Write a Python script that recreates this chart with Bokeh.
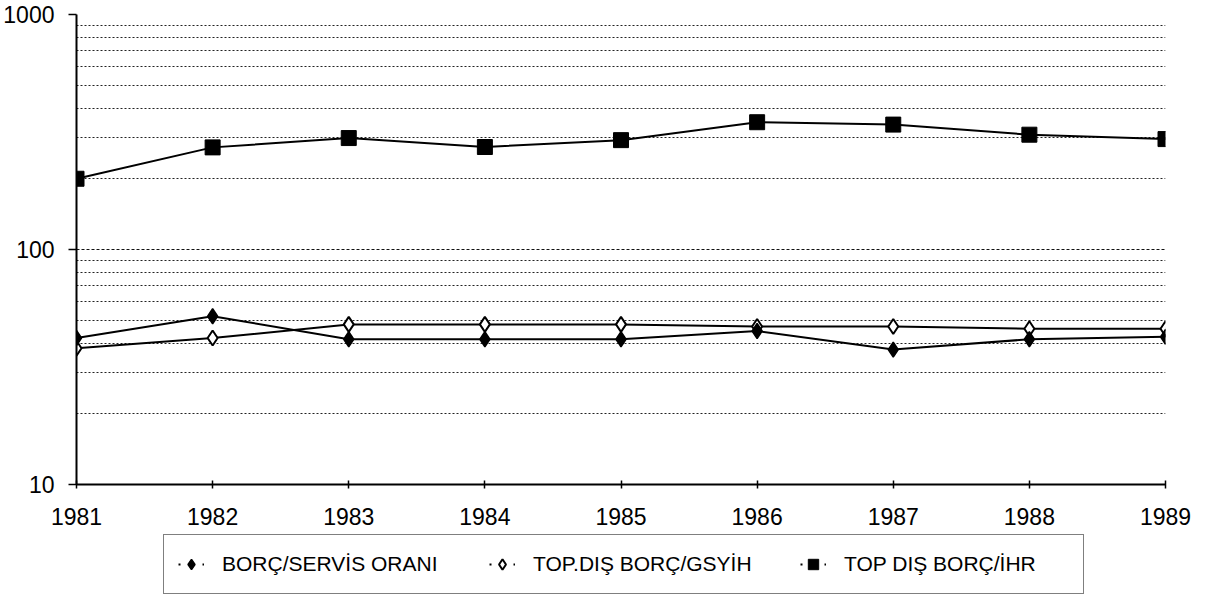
from bokeh.plotting import figure
from bokeh.layouts import column
from bokeh.models import Range1d, FixedTicker, Legend, LegendItem
from bokeh.embed import file_html
from bokeh.resources import INLINE

# ---- data ----
years = [1981, 1982, 1983, 1984, 1985, 1986, 1987, 1988, 1989]
borc_servis_orani = [42, 52, 41.5, 41.5, 41.5, 45, 37.5, 41.5, 42.5]
top_dis_borc_gsyih = [38, 42, 48, 48, 48, 47, 47, 46, 46]
top_dis_borc_ihr = [200, 272, 298, 273, 292, 348, 340, 308, 295]
series_names = ["BORÇ/SERVİS ORANI", "TOP.DIŞ BORÇ/GSYİH", "TOP DIŞ BORÇ/İHR"]
y_ticks = [10, 100, 1000]
y_tick_labels = ["10", "100", "1000"]
x_tick_labels = [str(y) for y in years]

FONT = "Liberation Sans"
W = 1199

p = figure(width=W, height=534, y_axis_type="log",
           x_range=Range1d(years[0], years[-1]),
           y_range=Range1d(y_ticks[0], y_ticks[-1]),
           output_backend="svg", toolbar_location=None,
           min_border_left=76, min_border_right=34,
           min_border_top=14, min_border_bottom=50)
p.outline_line_color = None
p.background_fill_color = "white"
p.border_fill_color = "white"

# grid
p.xgrid.grid_line_color = None
p.ygrid.grid_line_color = "#111111"
p.ygrid.grid_line_dash = "3 2"
p.ygrid.grid_line_width = 1.2
minor = [m * d for d in y_ticks[:-1] for m in range(2, 10)]
p.yaxis.ticker = FixedTicker(ticks=y_ticks, minor_ticks=minor)
p.ygrid.minor_grid_line_color = "#222222"
p.ygrid.minor_grid_line_dash = "2 2"
p.ygrid.minor_grid_line_width = 1

# axes
p.yaxis.major_label_overrides = {t: l for t, l in zip(y_ticks, y_tick_labels)}
p.yaxis.minor_tick_line_color = None
p.yaxis.major_tick_in = 0
p.yaxis.major_tick_out = 8
p.yaxis.major_label_standoff = 14
p.xaxis.ticker = FixedTicker(ticks=years)
p.xaxis.major_label_overrides = {y: l for y, l in zip(years, x_tick_labels)}
p.xaxis.minor_tick_line_color = None
p.xaxis.major_tick_in = 4
p.xaxis.major_tick_out = 4
p.xaxis.major_label_standoff = 19
for ax in (p.xaxis, p.yaxis):
    ax.axis_line_color = "black"
    ax.axis_line_width = 2
    ax.major_tick_line_color = "black"
    ax.major_tick_line_width = 1.5
    ax.major_label_text_font = FONT
    ax.major_label_text_font_size = "23px"
    ax.major_label_text_color = "black"

# series
p.line(years, top_dis_borc_ihr, line_color="black", line_width=2)
p.scatter(years, top_dis_borc_ihr, marker="square", size=15,
          fill_color="black", line_color="black")
p.line(years, top_dis_borc_gsyih, line_color="black", line_width=2)
p.line(years, borc_servis_orani, line_color="black", line_width=2)
p.scatter(years, top_dis_borc_gsyih, marker="diamond", size=15,
          fill_color="white", line_color="black", line_width=2)
p.scatter(years, borc_servis_orani, marker="diamond", size=15,
          fill_color="black", line_color="black", line_width=1.5)

# ---- legend strip below the chart ----
# its renderers hold the same series but lie outside this strip's ranges,
# so only their legend glyphs are visible
p2 = figure(width=W, height=62, x_range=Range1d(0, 1), y_range=Range1d(0, 1),
            output_backend="svg", toolbar_location=None, min_border=0,
            x_axis_location=None, y_axis_location=None)
p2.grid.visible = False
p2.outline_line_color = None
p2.border_fill_color = "white"
p2.background_fill_color = "white"

series_values = [borc_servis_orani, top_dis_borc_gsyih, top_dis_borc_ihr]
styles = [dict(marker="diamond", fill_color="black", line_width=1.5, size=13),
          dict(marker="diamond", fill_color="white", line_width=2, size=13),
          dict(marker="square", fill_color="black", line_width=1, size=11)]
items = []
for name, st, vals in zip(series_names, styles, series_values):
    dl = p2.line(years, vals, line_color="black", line_width=2, line_dash="2 10")
    sc = p2.scatter(years, vals, line_color="black", **st)
    items.append(LegendItem(label=name, renderers=[dl, sc]))

legend = Legend(items=items, orientation="horizontal", location=(87, 2))
legend.margin = 0
legend.padding = 14
legend.spacing = 42
legend.glyph_width = 26
legend.glyph_height = 30
legend.label_height = 30
legend.label_width = 225
legend.label_standoff = 18
legend.label_text_font = FONT
legend.label_text_font_size = "21px"
legend.label_text_color = "black"
legend.border_line_color = "black"
legend.border_line_width = 1.5
legend.background_fill_color = "white"
p2.add_layout(legend)

open("out.html", "w").write(file_html(column(p, p2), INLINE))
